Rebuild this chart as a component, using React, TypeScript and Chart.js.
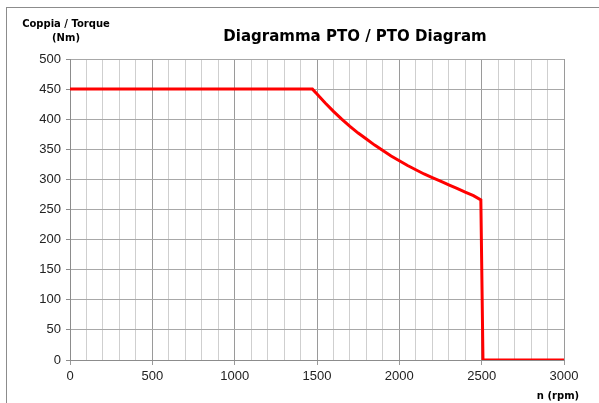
import React, { useEffect, useRef } from "react";
import { Chart, registerables } from "chart.js";

Chart.register(...registerables);

const rpm = [0, 500, 1000, 1472, 1500, 1550, 1600, 1650, 1700, 1750, 1800, 1850, 1900, 1950, 2000, 2050, 2100, 2150, 2200, 2250, 2300, 2350, 2400, 2450, 2495, 2508, 2600, 3000];
const torque = [450, 450, 450, 450, 442, 427, 413, 400, 388, 377, 367, 357, 348, 339, 331, 323, 316, 309, 303, 297, 291, 285, 279, 273, 266, 0, 0, 0];
const xTickLabels = ["0", "500", "1000", "1500", "2000", "2500", "3000"];
const titleText = "Diagramma PTO / PTO Diagram";
const yTitleLines = ["Coppia / Torque", "(Nm)"];
const xTitleText = "n (rpm)";

export default function App() {
  const ref = useRef<HTMLCanvasElement | null>(null);
  useEffect(() => {
    document.body.style.margin = "0";
    const canvas = ref.current!;
    const textPlugin = {
      id: "texts",
      beforeDraw(chart: any) {
        const ctx = chart.ctx;
        ctx.save();
        ctx.fillStyle = "#ffffff";
        ctx.fillRect(0, 0, chart.width, chart.height);
        ctx.strokeStyle = "#8c8c8c";
        ctx.lineWidth = 1;
        ctx.strokeRect(6.5, 7.5, 600, 420);
        ctx.restore();
      },
      afterDraw(chart: any) {
        const ctx = chart.ctx;
        ctx.save();
        ctx.fillStyle = "#000000";
        ctx.textAlign = "center";
        ctx.textBaseline = "middle";
        ctx.font = "bold 15px 'DejaVu Sans'";
        ctx.fillText(titleText, 355, 37);
        ctx.font = "bold 10px 'DejaVu Sans'";
        ctx.fillText(yTitleLines[0], 66, 24);
        ctx.fillText(yTitleLines[1], 66, 38);
        ctx.fillText(xTitleText, 558, 396);
        ctx.restore();
      },
    };
    const chart = new Chart(canvas, {
      type: "line",
      data: {
        datasets: [
          {
            data: rpm.map((x, i) => ({ x, y: torque[i] })),
            borderColor: "#ff0000",
            borderWidth: 3,
            pointRadius: 0,
            tension: 0,
            fill: false,
          },
        ],
      },
      options: {
        animation: false,
        responsive: false,
        layout: { padding: { left: 0, top: 59, right: 35, bottom: 0 } },
        plugins: { legend: { display: false }, tooltip: { enabled: false }, title: { display: false } },
        scales: {
          x: {
            type: "linear",
            min: 0,
            max: 3000,
            afterBuildTicks(scale: any) {
              const t = [];
              for (let v = 0; v <= 3000; v += 100) t.push({ value: v });
              scale.ticks = t;
            },
            afterFit(scale: any) {
              scale.height = 43;
            },
            ticks: {
              autoSkip: false,
              maxRotation: 0,
              padding: 4,
              color: "#222222",
              font: { family: "'Liberation Sans', Arial", size: 13 },
              callback: (v: any) => (v % 500 === 0 ? xTickLabels[v / 500] : ""),
            },
            grid: {
              color: (c: any) => (c.tick && c.tick.value % 500 === 0 ? "#9a9a9a" : "#cfcfcf"),
              tickColor: (c: any) => (c.tick && c.tick.value % 500 === 0 ? "#9a9a9a" : "rgba(0,0,0,0)"),
              tickLength: 5,
              lineWidth: 1,
            },
            border: { color: "#8c8c8c", width: 1 },
          },
          y: {
            min: 0,
            max: 500,
            afterFit(scale: any) {
              scale.width = 70;
            },
            ticks: {
              stepSize: 50,
              padding: 5,
              color: "#222222",
              font: { family: "'Liberation Sans', Arial", size: 13 },
            },
            grid: { color: "#a8a8a8", tickColor: "#8c8c8c", tickLength: 4, lineWidth: 1 },
            border: { color: "#8c8c8c", width: 1 },
          },
        },
      },
      plugins: [textPlugin],
    } as any);
    return () => chart.destroy();
  }, []);
  return <canvas ref={ref} width={599} height={403} style={{ display: "block" }} />;
}
